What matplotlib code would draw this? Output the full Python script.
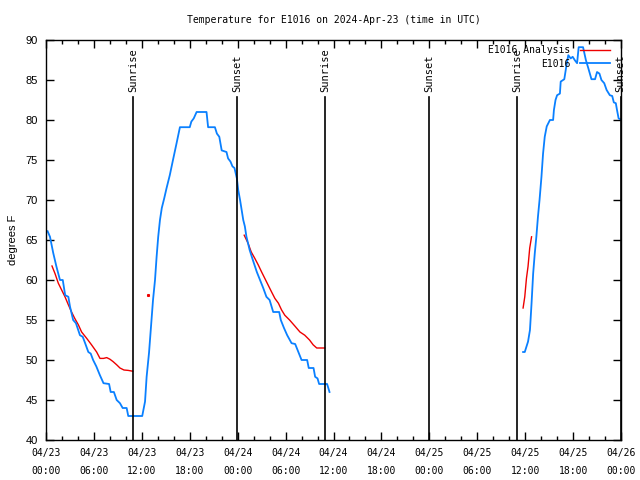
import matplotlib
matplotlib.use("Agg")
import matplotlib.pyplot as plt
import matplotlib.dates as mdates
from matplotlib.ticker import MultipleLocator
from datetime import datetime, timedelta

start = datetime(2024, 4, 23, 0, 0)

# E1016 observations (hours after start, degrees F)
blue1_h = [0.2,0.5,0.9,1.3,1.75,2.1,2.4,2.8,3.0,3.4,3.75,4.25,4.6,4.9,5.3,5.6,5.9,6.3,6.75,7.2,7.9,8.1,8.5,8.85,9.26,9.6,10.1,10.3,12.05,12.4,12.6,12.9,13.15,13.4,13.65,13.85,14.05,14.27,14.5,14.8,15.1,15.5,15.9,16.35,16.77,18.0,18.2,18.5,18.86,20.1,20.3,21.15,21.4,21.7,22.0,22.6,22.8,23.1,23.35,23.6,23.9,24.07,24.3,24.5,24.7,24.9,25.1,25.5,25.9,26.4,26.8,27.2,27.6,28.0,28.45,29.2,29.4,29.8,30.2,30.75,31.2,31.6,32.0,32.7,32.9,33.5,33.7,34.0,34.2,35.2,35.5]
blue1_t = [66.1,65.4,63.4,61.7,60,60,58.1,57.9,56.7,55,54.6,53.1,52.9,52.1,51,50.8,50,49.2,48.1,47.1,47,46,46,45,44.6,44,44,43,43,44.8,47.9,50.9,54.2,57.5,60,62.9,65.4,67.5,69,70.2,71.5,73.1,75,77.1,79.1,79.1,79.8,80.2,81,81,79.1,79.1,78.3,77.9,76.2,76,75.2,74.8,74.2,74,72.7,71.25,70,68.75,67.5,66.7,65.4,63.75,62.5,61,60,59,57.9,57.5,56,56,55,54,53.1,52.1,52,51,50,50,49,49,47.9,47.7,47,47,46]
blue2_h = [59.74,59.95,60.36,60.6,60.8,61.0,61.2,61.4,61.6,61.8,62.04,62.24,62.45,62.7,63.1,63.5,63.6,63.8,64.0,64.35,64.45,64.9,65.15,65.4,65.7,65.95,66.2,66.5,66.7,67.25,67.6,67.9,68.3,68.75,69.0,69.3,69.55,69.9,70.2,70.6,70.9,71.1,71.35,71.5,71.7,71.9]
blue2_t = [51,51,52.3,53.75,57.1,60.8,63.3,65.4,67.9,70,72.9,75.8,77.9,79.2,80,80,81.25,82.5,83.1,83.3,84.8,85.1,86.7,88.1,87.7,87.9,87.5,87.1,89.1,89.1,87.5,86.5,85.1,85.1,86,85.8,85,84.6,83.75,83.1,83,82.2,82.1,81.25,80.2,80.1]

# E1016 Analysis
red1_h = [0.75,1.13,1.54,1.96,2.38,2.8,3.2,3.6,4.05,4.46,5.1,5.7,6.34,6.76,7.2,7.6,8.0,8.4,8.85,9.26,9.76,10.3,10.85]
red1_t = [61.75,60.8,59.6,58.75,57.9,56.9,56,55.2,54.4,53.5,52.7,51.9,51,50.2,50.2,50.3,50.1,49.8,49.4,49.0,48.75,48.7,48.6]
red_dot_h = [12.8]
red_dot_t = [58.1]
red2_h = [24.82,25.3,25.7,26.15,26.57,27.0,27.4,27.8,28.25,28.66,29.1,29.5,29.9,30.5,31.2,31.8,32.4,33.0,33.45,33.9,34.9]
red2_t = [65.6,64.6,63.5,62.7,61.9,61,60.2,59.4,58.5,57.7,57.1,56.25,55.6,55,54.2,53.5,53.1,52.5,51.9,51.5,51.5]
red3_h = [59.74,59.95,60.16,60.36,60.57,60.8]
red3_t = [56.5,57.9,60.2,61.7,64,65.4]

events_h = [10.89, 23.9, 34.92, 47.93, 58.95, 71.96]
events_lbl = ["Sunrise", "Sunset", "Sunrise", "Sunset", "Sunrise", "Sunset"]

def dt(hs):
    return [start + timedelta(hours=h) for h in hs]

BLUE = "#0a80ff"
RED = "#ee0000"
MONO = "DejaVu Sans Mono"
SANS = "Liberation Sans"
FS = 7

fig = plt.figure(figsize=(6.4, 4.8), dpi=100)
ax = fig.add_axes([46/640, 40/480, 575/640, 400/480])

ax.plot(dt(red1_h), red1_t, color=RED, lw=1.0, label="E1016 Analysis")
ax.plot(dt(red_dot_h), red_dot_t, color=RED, marker="s", ms=1.2, lw=0)
ax.plot(dt(red2_h), red2_t, color=RED, lw=1.0)
ax.plot(dt(red3_h), red3_t, color=RED, lw=1.0)
ax.plot(dt(blue1_h), blue1_t, color=BLUE, lw=1.3, label="E1016")
ax.plot(dt(blue2_h), blue2_t, color=BLUE, lw=1.3)

for h, lbl in zip(events_h, events_lbl):
    d = start + timedelta(hours=h)
    ax.plot([d, d], [40, 82.9], color="black", lw=1.2)
    ax.text(d, 83.5, lbl, rotation=90, ha="center", va="bottom",
            fontsize=FS + 0.5, family=MONO)

ax.set_xlim(start, start + timedelta(hours=72))
ax.set_ylim(40, 90)
ax.xaxis.set_major_locator(mdates.HourLocator(byhour=[0, 6, 12, 18]))
ax.xaxis.set_minor_locator(mdates.HourLocator(byhour=range(0, 24, 2)))
ax.xaxis.set_major_formatter(mdates.DateFormatter("%m/%d\n%H:%M"))
ax.yaxis.set_major_locator(MultipleLocator(5))
ax.tick_params(which="major", direction="in", length=6, top=True, right=True,
               width=1, labelsize=FS, pad=6)
ax.tick_params(which="minor", direction="in", length=3, top=True, right=True, width=1)
ax.tick_params(axis="y", labelsize=FS + 1, pad=6)
for lab in ax.get_xticklabels():
    lab.set_family(MONO)
    lab.set_linespacing(1.95)
for lab in ax.get_yticklabels():
    lab.set_family(SANS)
for sp in ax.spines.values():
    sp.set_linewidth(1.0)

ax.set_ylabel("degrees F", fontsize=FS + 1, family=SANS, labelpad=5)
fig.text(334/640, 1 - 20/480, "Temperature for E1016 on 2024-Apr-23 (time in UTC)",
         ha="center", va="center", fontsize=FS, family=MONO)

leg = ax.legend(loc="upper right", bbox_to_anchor=(0.981, 0.9875), frameon=False,
                markerfirst=False, prop={"family": MONO, "size": FS},
                handlelength=3.1, handletextpad=1.0, labelspacing=0.4,
                borderpad=0, borderaxespad=0)

fig.savefig("out.png", dpi=100)
